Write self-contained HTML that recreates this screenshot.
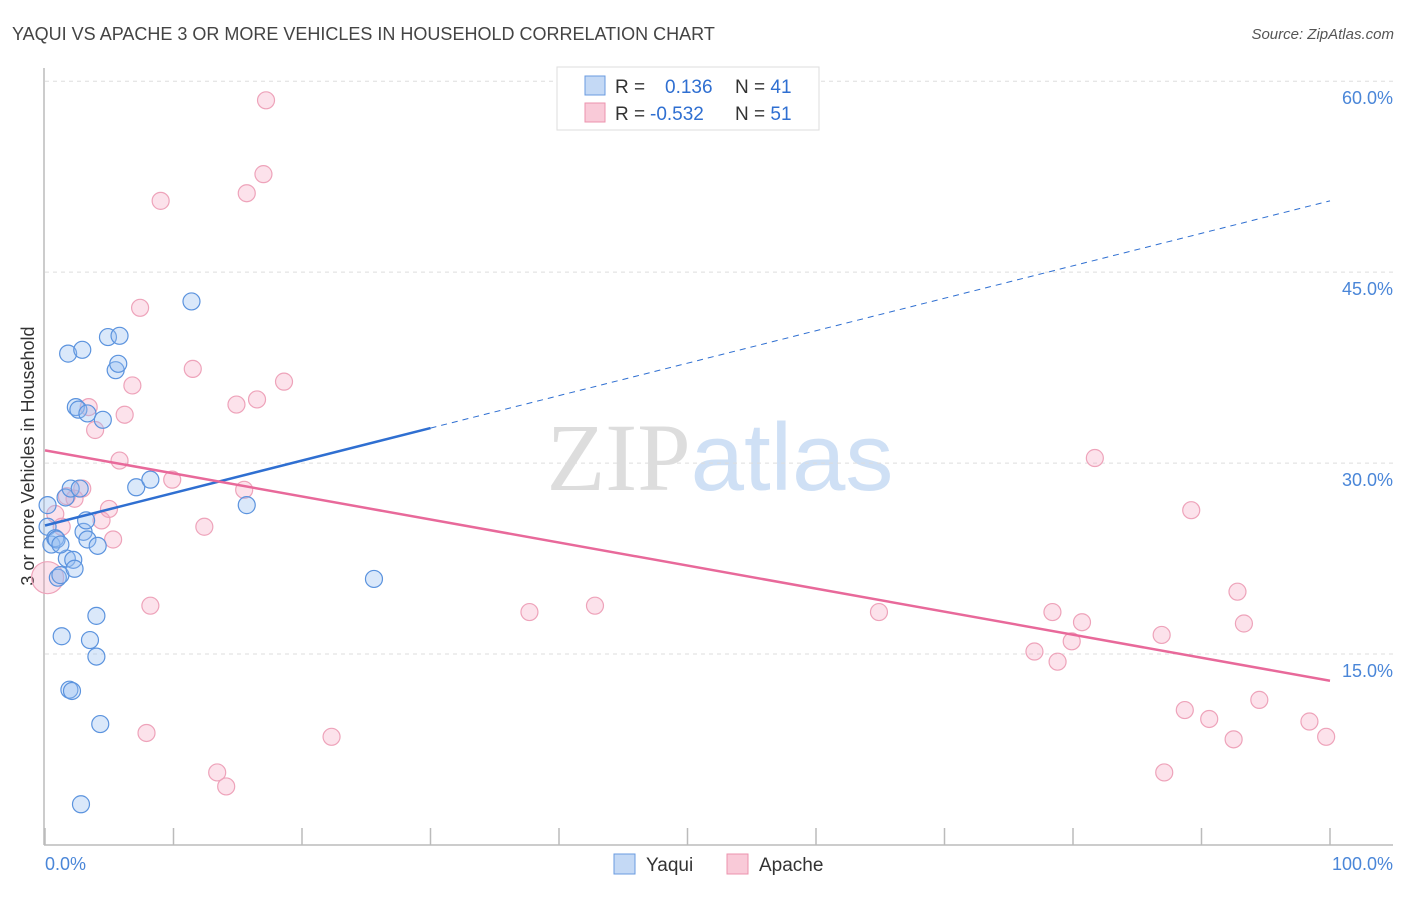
<!DOCTYPE html>
<html><head><meta charset="utf-8"><style>
body{margin:0;background:#fff;font-family:"Liberation Sans",sans-serif}
svg text{font-family:"Liberation Sans",sans-serif}
</style></head><body>
<svg id="c" width="1406" height="892" xmlns="http://www.w3.org/2000/svg">
<text x="12" y="40" font-size="18" fill="#444">YAQUI VS APACHE 3 OR MORE VEHICLES IN HOUSEHOLD CORRELATION CHART</text>
<text x="1394" y="39" font-size="15" fill="#555" text-anchor="end" font-style="italic">Source: ZipAtlas.com</text>
<text x="720" y="490" font-size="96" text-anchor="middle"><tspan fill="#ddd" font-family="Liberation Serif">ZIP</tspan><tspan fill="#cfe0f5">atlas</tspan></text>
<text transform="translate(34,456) rotate(-90)" font-size="18" fill="#333" text-anchor="middle">3 or more Vehicles in Household</text>
<g id="grid"></g><g id="marks"></g><g id="lines"></g>
<g>
<rect x="557" y="67" width="262" height="63" fill="#fff" stroke="#ddd"/>
<rect x="585" y="76" width="20" height="19" fill="#c4d9f5" stroke="#6a9be0"/>
<rect x="585" y="103" width="20" height="19" fill="#f9cad8" stroke="#ec93ae"/>
<text x="615" y="93" font-size="19" fill="#333">R =  <tspan fill="#2f6fd1" x="665">0.136</tspan><tspan x="735">N = </tspan><tspan fill="#2f6fd1">41</tspan></text>
<text x="615" y="120" font-size="19" fill="#333">R = <tspan fill="#2f6fd1" x="650">-0.532</tspan><tspan x="735">N = </tspan><tspan fill="#2f6fd1">51</tspan></text>
</g>
<text x="45" y="870" font-size="18" fill="#4a86d8">0.0%</text>
<text x="1393" y="870" font-size="18" fill="#4a86d8" text-anchor="end">100.0%</text>
<g>
<rect x="614" y="854" width="21" height="20" fill="#c4d9f5" stroke="#6a9be0"/>
<text x="646" y="871" font-size="19" fill="#333">Yaqui</text>
<rect x="727" y="854" width="21" height="20" fill="#f9cad8" stroke="#ec93ae"/>
<text x="759" y="871" font-size="19" fill="#333">Apache</text>
</g>
</svg>
<script>
const yTicks=[15,30,45,60];
const yTickLabels=["15.0%","30.0%","45.0%","60.0%"];
const yaquiX=[0.2,0.2,0.5,0.8,0.9,1.0,1.2,1.3,1.6,1.7,1.8,1.9,2.0,2.2,2.3,2.4,2.6,2.7,2.9,3.0,3.2,3.3,3.3,3.5,4.0,4.0,4.1,4.3,4.5,4.9,5.5,5.7,5.8,7.1,8.2,11.4,15.7,25.6,2.8,2.1,1.2];
const yaquiY=[26.7,25.0,23.6,24.1,24.0,21.0,21.2,16.4,27.3,22.5,38.6,12.2,28.0,22.4,21.7,34.4,34.2,28.0,38.9,24.6,25.5,24.0,33.9,16.1,18.0,14.8,23.5,9.5,33.4,39.9,37.3,37.8,40.0,28.1,28.7,42.7,26.7,20.9,3.2,12.1,23.6];
const apacheX=[17.2,17.0,15.7,9.0,7.4,11.5,18.6,6.8,16.5,14.9,6.2,3.9,3.4,5.8,9.9,15.5,2.9,2.3,1.7,0.8,1.3,4.4,4.98,5.3,12.4,8.2,7.9,13.4,14.1,22.3,37.7,42.8,64.9,81.7,89.2,78.4,80.7,79.9,77.0,78.8,86.9,92.8,93.3,94.5,88.7,90.6,92.5,98.4,99.7,87.1,0.2];
const apacheY=[58.5,52.7,51.2,50.6,42.2,37.4,36.4,36.1,35.0,34.6,33.8,32.6,34.4,30.2,28.7,27.9,28.0,27.2,27.4,26.0,25.0,25.5,26.4,24.0,25.0,18.8,8.8,5.7,4.6,8.5,18.3,18.8,18.3,30.4,26.3,18.3,17.5,16.0,15.2,14.4,16.5,19.9,17.4,11.4,10.6,9.9,8.3,9.7,8.5,5.7,21.0];
const yaquiLine=[25.1,50.6], yaquiSolidEnd=30;
const apacheLine=[31.0,12.9];
const NS="http://www.w3.org/2000/svg";
const X=v=>45+v*12.85, Y=v=>845-v*12.73;
function mk(t,a,p){const e=document.createElementNS(NS,t);for(const k in a)e.setAttribute(k,a[k]);p.appendChild(e);return e;}
const g=document.getElementById('grid'),m=document.getElementById('marks'),l=document.getElementById('lines');
yTicks.forEach((t,i)=>{
 const ln=mk('line',{x1:45,x2:1393,y1:Y(t),y2:Y(t),stroke:'#ddd','stroke-dasharray':'4,4'},g);
 
 
 const tx=mk('text',{x:1393,y:Y(t)+23,'font-size':18,fill:'#4a86d8','text-anchor':'end'},g);
 tx.textContent=yTickLabels[i];
 
 
});
const lineY=mk('line',{x1:44,x2:44,y1:68,y2:845,stroke:'#bbb','stroke-width':1.5},g);


const lineX=mk('line',{x1:44,x2:1393,y1:845,y2:845,stroke:'#bbb','stroke-width':1.5},g);


for(let i=0;i<=10;i++){const t=mk('line',{x1:X(i*10),x2:X(i*10),y1:828,y2:845,stroke:'#bbb','stroke-width':1.5},g);
 
 }
apacheX.forEach((x,i)=>{const c=mk('circle',{cx:X(x),cy:Y(apacheY[i]),r:i==apacheX.length-1?16:8.5,fill:'rgba(244,160,188,0.3)',stroke:'#eea3ba','stroke-width':1.2},m);
 
 });
yaquiX.forEach((x,i)=>{const c=mk('circle',{cx:X(x),cy:Y(yaquiY[i]),r:8.5,fill:'rgba(150,190,240,0.35)',stroke:'#5b93de','stroke-width':1.2},m);
 
 });
const yl=v=>yaquiLine[0]+(yaquiLine[1]-yaquiLine[0])*v/100;
const a=mk('line',{x1:X(0),y1:Y(yl(0)),x2:X(yaquiSolidEnd),y2:Y(yl(yaquiSolidEnd)),stroke:'#2f6fd1','stroke-width':2.5},l);


const b=mk('line',{x1:X(yaquiSolidEnd),y1:Y(yl(yaquiSolidEnd)),x2:X(100),y2:Y(yl(100)),stroke:'#2f6fd1','stroke-width':1,'stroke-dasharray':'6,5'},l);


const p=mk('line',{x1:X(0),y1:Y(apacheLine[0]),x2:X(100),y2:Y(apacheLine[1]),stroke:'#e8699a','stroke-width':2.5},l);


</script>
</body></html>
